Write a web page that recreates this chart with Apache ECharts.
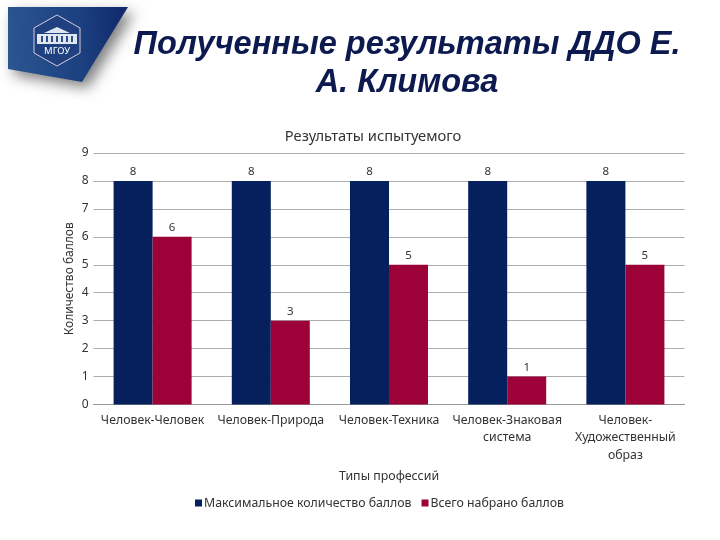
<!DOCTYPE html>
<html><head><meta charset="utf-8">
<style>html,body{margin:0;padding:0;background:#fff}#c{width:720px;height:540px}</style>
<script src="https://cdn.jsdelivr.net/npm/echarts@6/dist/echarts.min.js"></script>
</head><body><div id="c"></div>
<script>
const categories = ['Человек-Человек','Человек-Природа','Человек-Техника','Человек-Знаковая\nсистема','Человек-\nХудожественный\nобраз'];
const maxScores = [8,8,8,8,8];
const gotScores = [6,3,5,1,5];
const seriesNames = ['Максимальное количество баллов','Всего набрано баллов'];
const font = '"Noto Sans","Open Sans",sans-serif';
const chart = echarts.init(document.getElementById('c'), null, {renderer:'canvas'});
const labelStyle = {show:true, position:'top', distance:3, color:'#333', fontSize:11.5, fontFamily:font};
const columns = [41,46,51,56,61,66,71].map(x => ({type:'rect', z:12, shape:{x:x,y:36,width:2,height:6}, style:{fill:'#2c4f88'}}));
chart.setOption({
  animation:false,
  backgroundColor:'#fff',
  title:[
    {text:'Полученные результаты ДДО Е.\nА. Климова', left:402, top:21, textAlign:'center',
     textStyle:{fontFamily:'"Liberation Sans",Arial,sans-serif', fontStyle:'italic', fontWeight:'bold', fontSize:32.5, lineHeight:38, color:'#0c1a50'}},
    {text:'Результаты испытуемого', left:368, top:124, textAlign:'center',
     textStyle:{fontFamily:font, fontWeight:'normal', fontSize:14.7, color:'#333'}}
  ],
  legend:{top:492, left:190, itemWidth:7, itemHeight:7, itemGap:10, icon:'rect',
    textStyle:{fontFamily:font, fontSize:12.3, color:'#333', padding:[0,0,0,-3]}},
  grid:{left:93.5, right:35.5, top:153, bottom:135.5},
  xAxis:{type:'category', data:categories, name:'Типы профессий', nameLocation:'middle', nameGap:66,
    nameTextStyle:{fontFamily:font, fontSize:12.4, color:'#333'},
    axisTick:{show:false}, axisLine:{lineStyle:{color:'#9a9a9a',width:1}},
    axisLabel:{interval:0, fontFamily:font, fontSize:12.3, color:'#333', lineHeight:17.5, margin:7}},
  yAxis:{type:'value', min:0, max:9, interval:1, name:'Количество баллов', nameLocation:'middle', nameGap:18, nameMoveOverlap:false,
    nameTextStyle:{fontFamily:font, fontSize:12, color:'#333'},
    axisLine:{show:false}, axisTick:{show:false},
    axisLabel:{fontFamily:font, fontSize:12, color:'#333', margin:5},
    splitLine:{lineStyle:{color:'#adadad',width:1.2}}},
  series:[
    {name:seriesNames[0], type:'bar', data:maxScores, barGap:0, barCategoryGap:'34%', itemStyle:{color:'#05205c'}, label:labelStyle},
    {name:seriesNames[1], type:'bar', data:gotScores, itemStyle:{color:'#9c0238'}, label:labelStyle}
  ],
  graphic:[
    {type:'polygon', z:10, shape:{points:[[8,7],[128,7],[82,82],[8,69]]},
     style:{fill:new echarts.graphic.LinearGradient(0,0.3,1,0.2,[{offset:0,color:'#2a5590'},{offset:0.6,color:'#1c4080'},{offset:1,color:'#10286a'}]),
       shadowBlur:14, shadowColor:'rgba(0,0,0,0.5)', shadowOffsetX:6, shadowOffsetY:6}},
    {type:'polygon', z:11, shape:{points:[[57,15],[80,28],[80,53],[57,66],[34,53],[34,28]]},
     style:{fill:'#1f4180', stroke:'#d9c9dc', lineWidth:1}},
    {type:'rect', z:11, shape:{x:37,y:34,width:40,height:10}, style:{fill:'#dfe6f0'}},
    {type:'polygon', z:11, shape:{points:[[44,33],[57,27],[70,33]]}, style:{fill:'#dfe6f0'}},
    ...columns,
    {type:'text', z:11, style:{x:57,y:51,text:'МГОУ',align:'center',verticalAlign:'middle',fill:'#fff',fontFamily:font,fontSize:9.5}}
  ]
});
</script></body></html>
